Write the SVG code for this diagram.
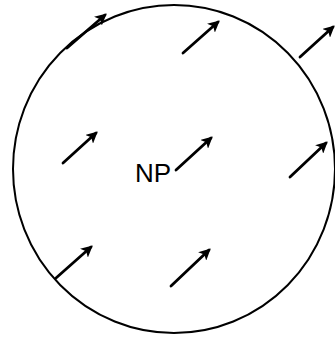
<svg xmlns="http://www.w3.org/2000/svg" width="335" height="338" viewBox="0 0 335 338">
<style>
.a{stroke:#000;stroke-width:2.8;fill:none;stroke-linecap:round;marker-end:url(#h)}
.c{stroke:#000;stroke-width:2;fill:none}
.t{font-family:"Liberation Sans",Arial,sans-serif;font-size:26px;fill:#000}
</style>
<defs>
<marker id="h" viewBox="0 0 10 10" refX="8" refY="5" markerWidth="4.2" markerHeight="4.2" orient="auto" markerUnits="strokeWidth">
<path d="M0,0 L10,5 L0,10 L2.5,5 Z" fill="#000"/>
</marker>
</defs>
<g id="circle"><ellipse class="c" cx="174" cy="169" rx="161" ry="164"/></g>
<g id="label"><text class="t" x="135" y="182">NP</text></g>
<g id="connectors">
<line class="a" x1="67" y1="48" x2="105" y2="15"/>
<line class="a" x1="183" y1="53" x2="218" y2="22"/>
<line class="a" x1="300" y1="57" x2="333" y2="27"/>
<line class="a" x1="63" y1="163" x2="96" y2="133"/>
<line class="a" x1="176" y1="170" x2="211" y2="138"/>
<line class="a" x1="290" y1="177" x2="326" y2="143"/>
<line class="a" x1="56" y1="278" x2="91" y2="247"/>
<line class="a" x1="171" y1="286" x2="209" y2="250"/>
</g>
</svg>
